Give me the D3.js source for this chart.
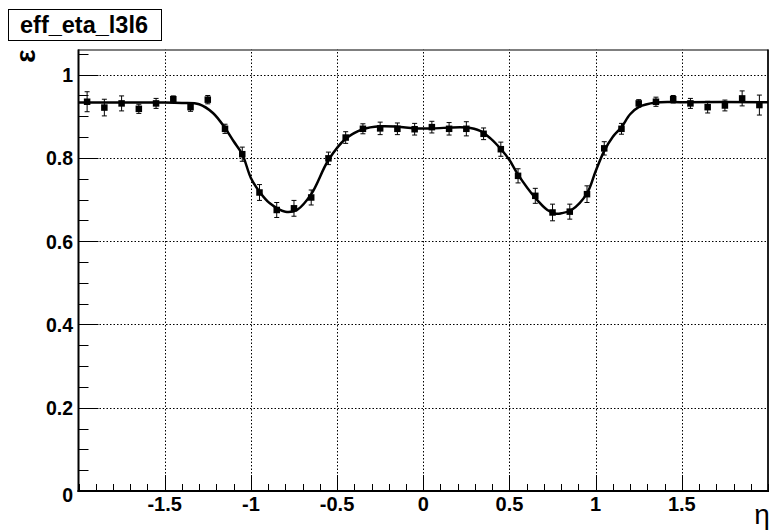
<!DOCTYPE html>
<html>
<head>
<meta charset="utf-8">
<script src="https://cdn.jsdelivr.net/npm/d3@7"></script>
<style>
  html, body { margin: 0; padding: 0; background: #fff; }
  svg { display: block; }
  .lbl { font-family: "Liberation Sans", Arial, Helvetica, sans-serif; font-weight: bold; fill: #000; }
</style>
</head>
<body>
<svg id="chart" width="773" height="530"></svg>
<script>
// ---- data ----
const title = "eff_eta_l3l6";
const xTitle = "η";
const yTitle = "ε";

const etaBins = [-1.95, -1.85, -1.75, -1.65, -1.55, -1.45, -1.35, -1.25, -1.15, -1.05,
                 -0.95, -0.85, -0.75, -0.65, -0.55, -0.45, -0.35, -0.25, -0.15, -0.05,
                  0.05,  0.15,  0.25,  0.35,  0.45,  0.55,  0.65,  0.75,  0.85,  0.95,
                  1.05,  1.15,  1.25,  1.35,  1.45,  1.55,  1.65,  1.75,  1.85,  1.95];
const effValues = [0.935, 0.921, 0.931, 0.918, 0.931, 0.941, 0.922, 0.940, 0.870, 0.809,
                   0.717, 0.675, 0.679, 0.705, 0.799, 0.849, 0.870, 0.871, 0.870, 0.869,
                   0.874, 0.870, 0.870, 0.858, 0.821, 0.757, 0.709, 0.669, 0.671, 0.713,
                   0.823, 0.870, 0.931, 0.935, 0.941, 0.931, 0.922, 0.926, 0.943, 0.927];
const effErrors = [0.024, 0.020, 0.018, 0.011, 0.012, 0.008, 0.010, 0.010, 0.011, 0.017,
                   0.019, 0.018, 0.019, 0.018, 0.015, 0.014, 0.012, 0.015, 0.014, 0.014,
                   0.014, 0.015, 0.017, 0.014, 0.017, 0.017, 0.018, 0.020, 0.018, 0.020,
                   0.016, 0.013, 0.009, 0.011, 0.009, 0.012, 0.014, 0.013, 0.018, 0.024];

// fit curve
const fitEta = [-2.0, -1.5, -1.4, -1.3, -1.22, -1.15, -1.1, -1.05, -1.0, -0.95, -0.89, -0.8, -0.73,
                -0.65, -0.55, -0.45, -0.35, -0.25, -0.15, -0.05, 0.05, 0.25, 0.33, 0.39, 0.455,
                0.5, 0.55, 0.65, 0.72, 0.77, 0.8, 0.86, 0.95, 1.0, 1.05, 1.1, 1.15, 1.2, 1.25,
                1.35, 1.5, 2.0];
const fitEff = [0.933, 0.933, 0.932, 0.929, 0.908, 0.872, 0.840, 0.809, 0.752, 0.719, 0.691, 0.671, 0.676,
                0.713, 0.795, 0.846, 0.869, 0.876, 0.875, 0.871, 0.871, 0.873, 0.865, 0.847, 0.819,
                0.795, 0.760, 0.704, 0.675, 0.666, 0.667, 0.675, 0.715, 0.768, 0.817, 0.851, 0.874, 0.905, 0.922,
                0.933, 0.934, 0.934];

const xMajorTicks = [-1.5, -1, -0.5, 0, 0.5, 1, 1.5];
const xTickLabels = ["-1.5", "-1", "-0.5", "0", "0.5", "1", "1.5"];
const yMajorTicks = [0, 0.2, 0.4, 0.6, 0.8, 1];
const yTickLabels = ["0", "0.2", "0.4", "0.6", "0.8", "1"];

// ---- layout ----
const svg = d3.select("#chart");
const x = d3.scaleLinear().domain([-2, 2]).range([78.5, 768]);
const y = d3.scaleLinear().domain([0, 1.06]).range([491, 49.7]);

const xMinor = d3.range(-20, 21).map(i => i / 10);
const yMinor = d3.range(0, 22).map(i => i * 0.05).filter(v => v <= 1.06);

// grid
const grid = svg.append("g").attr("stroke", "#000").attr("stroke-width", 1).attr("stroke-dasharray", "1.5,2");
grid.selectAll("line.gx").data(xMajorTicks).join("line")
  .attr("x1", d => Math.round(x(d)) + 0.5).attr("x2", d => Math.round(x(d)) + 0.5)
  .attr("y1", y.range()[0]).attr("y2", y.range()[1]);
grid.selectAll("line.gy").data(yMajorTicks.filter(v => v > 0)).join("line")
  .attr("y1", d => Math.round(y(d)) + 0.5).attr("y2", d => Math.round(y(d)) + 0.5)
  .attr("x1", x.range()[0]).attr("x2", x.range()[1]);

// ticks
const ticks = svg.append("g").attr("stroke", "#000").attr("stroke-width", 1);
ticks.selectAll("line.tx").data(xMinor).join("line")
  .attr("x1", d => Math.round(x(d)) + 0.5).attr("x2", d => Math.round(x(d)) + 0.5)
  .attr("y1", y(0)).attr("y2", d => y(0) - (xMajorTicks.some(m => Math.abs(m - d) < 1e-6) ? 16 : 7));
ticks.selectAll("line.ty").data(yMinor).join("line")
  .attr("y1", d => Math.round(y(d)) + 0.5).attr("y2", d => Math.round(y(d)) + 0.5)
  .attr("x1", x(-2)).attr("x2", d => x(-2) + (yMajorTicks.some(m => Math.abs(m - d) < 1e-6) ? 20 : 10));

// frame
svg.append("rect").attr("x", 78.5).attr("y", 50).attr("width", 768 - 78.5).attr("height", 491 - 50)
  .attr("fill", "none").attr("stroke", "#000").attr("stroke-width", 1);
svg.append("line").attr("x1", 78.5).attr("x2", 78.5).attr("y1", 49.5).attr("y2", 492).attr("stroke", "#000").attr("stroke-width", 2);
svg.append("line").attr("x1", 77.5).attr("x2", 769).attr("y1", 491).attr("y2", 491).attr("stroke", "#000").attr("stroke-width", 2);
svg.append("line").attr("x1", 768).attr("x2", 768).attr("y1", 49.5).attr("y2", 492).attr("stroke", "#000").attr("stroke-width", 1.5);

// tick labels
svg.selectAll("text.xl").data(xMajorTicks).join("text").attr("class", "lbl")
  .attr("x", d => x(d)).attr("y", 511).attr("text-anchor", "middle").attr("font-size", 20)
  .text((d, i) => xTickLabels[i]);
svg.selectAll("text.yl").data(yMajorTicks).join("text").attr("class", "lbl")
  .attr("x", 73).attr("y", d => y(d) + 7.5 + (d === 0 ? 3 : 0)).attr("text-anchor", "end").attr("font-size", 19.5)
  .text((d, i) => yTickLabels[i]);

// fit curve
const fitData = fitEta.map((e, i) => [e, fitEff[i]]);
svg.append("path").datum(fitData)
  .attr("d", d3.line().x(d => x(d[0])).y(d => y(d[1])).curve(d3.curveCatmullRom.alpha(0.5)))
  .attr("fill", "none").attr("stroke", "#000").attr("stroke-width", 2.5);

// error bars + markers
const pts = etaBins.map((e, i) => ({ e, v: effValues[i], err: effErrors[i] }));
const eb = svg.append("g").attr("stroke", "#000").attr("stroke-width", 1);
eb.selectAll("line.v").data(pts).join("line")
  .attr("x1", d => x(d.e)).attr("x2", d => x(d.e))
  .attr("y1", d => y(d.v - d.err)).attr("y2", d => y(d.v + d.err));
eb.selectAll("line.c1").data(pts).join("line")
  .attr("x1", d => x(d.e) - 2.5).attr("x2", d => x(d.e) + 2.5)
  .attr("y1", d => y(d.v - d.err)).attr("y2", d => y(d.v - d.err));
eb.selectAll("line.c2").data(pts).join("line")
  .attr("x1", d => x(d.e) - 2.5).attr("x2", d => x(d.e) + 2.5)
  .attr("y1", d => y(d.v + d.err)).attr("y2", d => y(d.v + d.err));
svg.selectAll("rect.m").data(pts).join("rect")
  .attr("x", d => x(d.e) - 3.25).attr("y", d => y(d.v) - 3.25).attr("width", 6.5).attr("height", 6.5).attr("fill", "#000");

// axis titles
svg.append("text").attr("class", "lbl")
  .attr("transform", "translate(25,56) rotate(-90)")
  .attr("text-anchor", "middle").attr("dominant-baseline", "central")
  .attr("font-family", "Liberation Sans").attr("font-size", 28).text(yTitle);
svg.append("text").attr("class", "lbl").style("font-weight", "normal")
  .attr("x", 762).attr("y", 524).attr("text-anchor", "middle")
  .attr("font-family", "Liberation Serif").attr("font-size", 28).text(xTitle);

// title box
svg.append("rect").attr("x", 8.5).attr("y", 9.5).attr("width", 153).attr("height", 31)
  .attr("fill", "#fff").attr("stroke", "#000").attr("stroke-width", 1);
svg.append("text").attr("class", "lbl").attr("x", 84).attr("y", 33).attr("text-anchor", "middle")
  .attr("font-size", 23.5).text(title);
</script>
</body>
</html>
